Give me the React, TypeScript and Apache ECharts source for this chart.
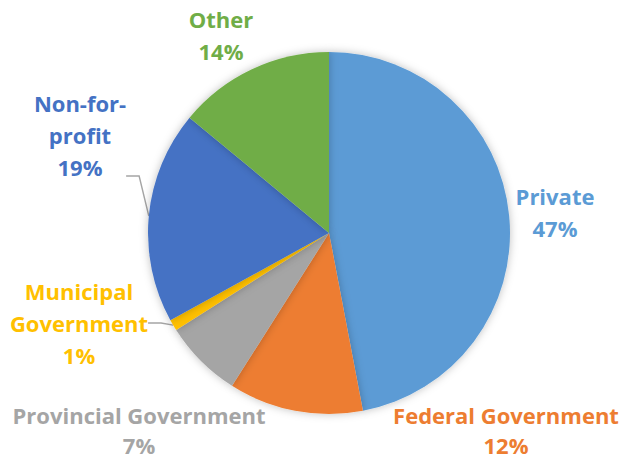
import React, { useEffect, useRef } from "react";
import * as echarts from "echarts";

const categories = [
  "Private",
  "Federal Government",
  "Provincial Government",
  "Municipal Government",
  "Non-for-profit",
  "Other",
];
const labelNames = [
  "Private",
  "Federal Government",
  "Provincial Government",
  "Municipal\nGovernment",
  "Non-for-\nprofit",
  "Other",
];
const values = [47, 12, 7, 1, 19, 14];
const colors = ["#5B9BD5", "#ED7D31", "#A5A5A5", "#FFC000", "#4472C4", "#70AD47"];
const showLine = [false, false, false, true, true, false];
// label block centres
const labelPos: [number, number][] = [
  [555, 212],
  [506, 430],
  [139, 430],
  [79, 323],
  [80, 176],
  [221, 35],
];
const labelLineHeights = [32, 30, 30, 32, 32, 32];
// an empty trailing line so the leader line attaches lower on the block
const labelTailSpace = [0, 0, 0, 0, 82, 0];

export default function App() {
  const ref = useRef<HTMLDivElement>(null);
  useEffect(() => {
    if (!ref.current) return;
    const chart = echarts.init(ref.current, null, { renderer: "svg" });
    const total = values.reduce((a, b) => a + b, 0);
    chart.setOption({
      animation: false,
      backgroundColor: "#ffffff",
      series: [
        {
          type: "pie",
          center: [329, 233],
          radius: 181,
          startAngle: 90,
          clockwise: true,
          avoidLabelOverlap: false,
          itemStyle: {
            shadowBlur: 8,
            shadowColor: "rgba(0,0,0,0.25)",
          },
          label: {
            show: true,
            position: "outside",
            fontFamily: "Open Sans",
            fontWeight: "bold",
            fontSize: 22,
            lineHeight: 32,
            align: "center",
            formatter: (p: any) => {
              const i = p.dataIndex;
              const txt = labelNames[i] + "\n" + Math.round((p.value / total) * 100) + "%";
              return labelTailSpace[i] ? txt + "\n{sp| }" : txt;
            },
          },
          labelLine: {
            length: 10,
            length2: 13,
            lineStyle: { color: "#A5A5A5", width: 1.4 },
          },
          labelLayout: (p: any) => ({
            x: labelPos[p.dataIndex][0],
            y: labelPos[p.dataIndex][1],
            align: "center",
            verticalAlign: "middle",
          }),
          data: categories.map((name, i) => ({
            name,
            value: values[i],
            itemStyle: { color: colors[i] },
            label: {
              color: colors[i],
              lineHeight: labelLineHeights[i],
              rich: { sp: { fontSize: 2, lineHeight: labelTailSpace[i] || 1 } },
            },
            labelLine: { show: showLine[i] },
          })),
        },
      ],
    });
    return () => chart.dispose();
  }, []);
  return (
    <div
      ref={ref}
      style={{ position: "fixed", left: 0, top: 0, width: 621, height: 460 }}
    />
  );
}
